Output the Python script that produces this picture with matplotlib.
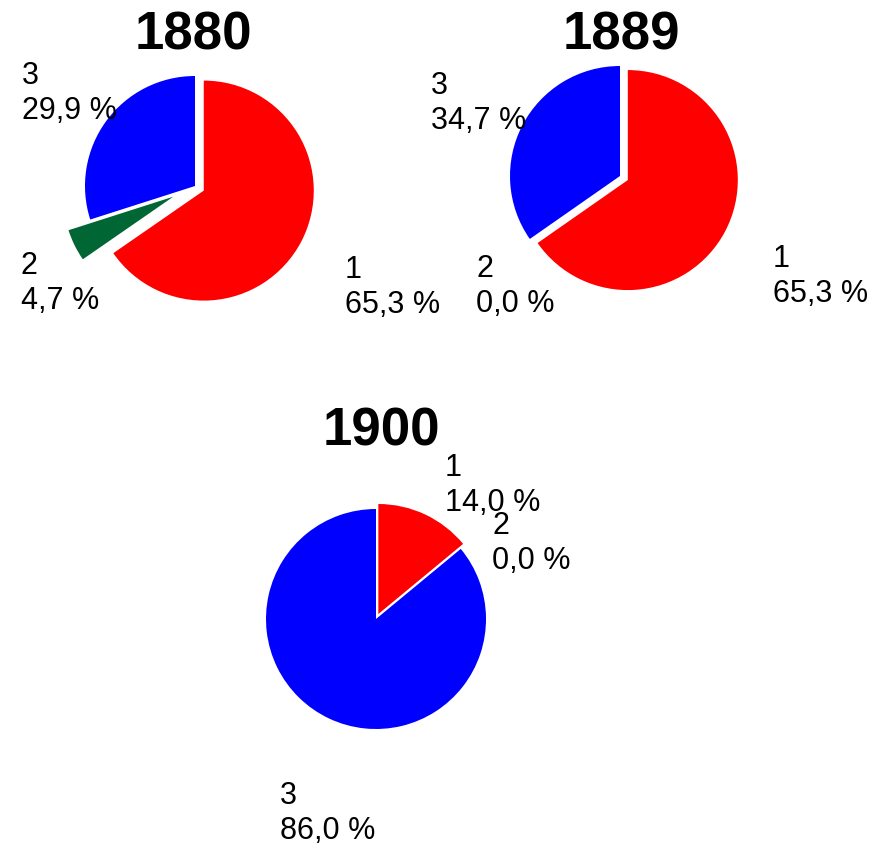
import matplotlib.pyplot as plt

plt.rcParams['font.family'] = ['Liberation Sans', 'DejaVu Sans']

W, H = 873, 848

years = ['1880', '1889', '1900']
categories = ['1', '2', '3']
shares = {
    '1880': [65.3, 4.7, 29.9],
    '1889': [65.3, 0.0, 34.7],
    '1900': [14.0, 0.0, 86.0],
}
colors = ['#ff0000', '#006633', '#0000ff']

# layout in pixels from the top-left corner
layout = {
    '1880': dict(center=(195, 186), explode=[0.09, 0.22, 0.0], title=(193, 50),
                 labels=[(345, 255), (21, 251), (22, 61)]),
    '1889': dict(center=(620, 176), explode=[0.08, 0.0, 0.0], title=(621, 49),
                 labels=[(773, 244), (476, 254), (431, 71)]),
    '1900': dict(center=(376, 619), explode=[0.05, 0.0, 0.0], title=(381, 445),
                 labels=[(445, 453), (492, 511), (280, 781)]),
}
R = 110

fig = plt.figure(figsize=(W / 100, H / 100), dpi=100)
ax = fig.add_axes([0, 0, 1, 1])

for yr in years:
    lay = layout[yr]
    cx, cy = lay['center']
    # pie() offsets wedges in data units, so scale the explode fractions
    ax.pie(shares[yr], colors=colors, explode=[e * R for e in lay['explode']],
           center=(cx, H - cy), radius=R, startangle=90, counterclock=False,
           wedgeprops=dict(linewidth=0))
    tx, ty = lay['title']
    ax.text(tx, H - ty, yr, fontsize=38, fontweight='bold', ha='center',
            va='baseline')
    for cat, val, (lx, ly) in zip(categories, shares[yr], lay['labels']):
        txt = f'{cat}\n{val:.1f} %'.replace('.', ',')
        ax.text(lx, H - ly, txt, fontsize=22, ha='left', va='top',
                linespacing=1.2)

ax.set_xlim(0, W)
ax.set_ylim(0, H)
ax.set_aspect('equal')
ax.axis('off')

fig.savefig('out.png', dpi=100)
